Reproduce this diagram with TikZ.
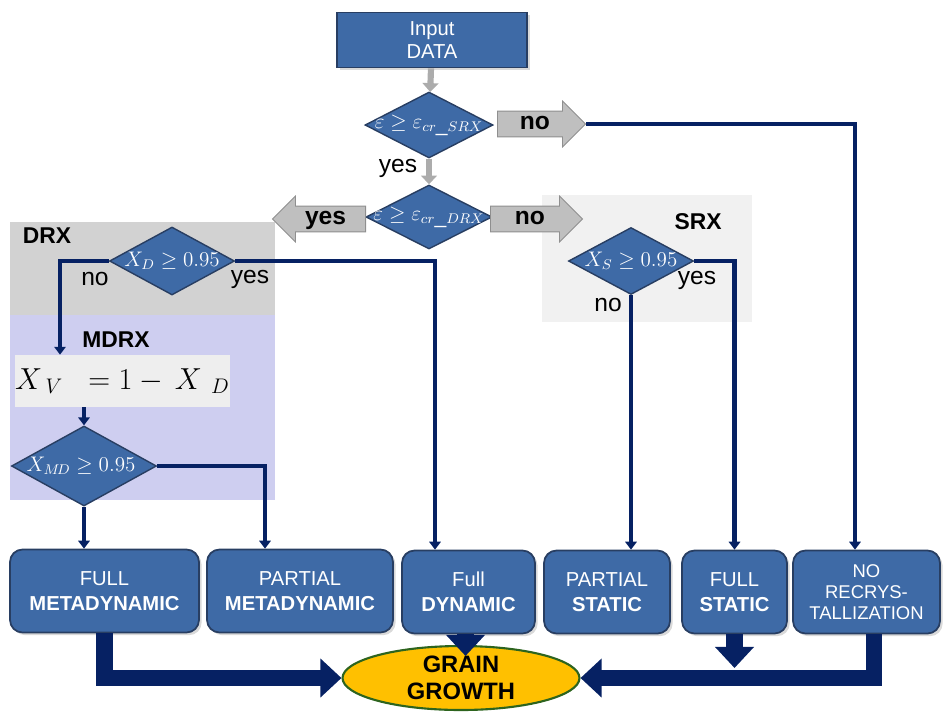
\documentclass[tikz,border=0pt]{standalone}
\usepackage{fontspec}
\setmainfont{Liberation Sans}
\usetikzlibrary{shapes.geometric,shapes.arrows,arrows.meta,shadows}

\definecolor{boxblue}{RGB}{62,106,166}
\definecolor{boxedge}{RGB}{40,62,98}
\definecolor{navy}{RGB}{6,33,99}
\definecolor{arrowgray}{RGB}{191,191,191}
\definecolor{drxgray}{RGB}{210,210,210}
\definecolor{mdrxblue}{RGB}{206,206,240}
\definecolor{srxgray}{RGB}{241,241,241}
\definecolor{xvgray}{RGB}{238,238,238}
\definecolor{grainyellow}{RGB}{255,192,0}
\definecolor{graingreen}{RGB}{45,100,30}

\begin{document}
\begin{tikzpicture}[x=0.02cm,y=-0.02cm,
  box/.style={rectangle,rounded corners=0.25cm,draw=boxedge,line width=1pt,fill=boxblue,
    text=white,align=center,minimum height=1.66cm,inner sep=1pt,font=\fontsize{11.5}{14}\selectfont,
    drop shadow={shadow xshift=1.5pt,shadow yshift=-1.5pt,opacity=.3}},
  decision/.style={diamond,draw=boxedge,line width=.8pt,fill=boxblue,text=white,inner sep=0pt,
    font=\fontsize{12}{14}\selectfont},
  bigarrow/.style={single arrow,draw=arrowgray!75!black,line width=.5pt,fill=arrowgray,
    single arrow head extend=0.2cm,text height=8pt,text depth=2pt,inner ysep=2.1pt,inner xsep=2pt,
    font=\bfseries\fontsize{14}{16}\selectfont,anchor=tail},
  tag/.style={font=\bfseries\fontsize{13}{15}\selectfont},
  note/.style={font=\fontsize{14}{16}\selectfont},
  feed/.style={draw=arrowgray!90!black,line width=3.5pt,-{Triangle[width=9pt,length=5pt]}},
  flow/.style={draw=navy,line width=2.8pt,-{Triangle[width=6.5pt,length=4.5pt]}},
  fat/.style={draw=navy,line width=9.6pt,line join=miter,-{Triangle[width=21.5pt,length=12pt]}}]

  \useasboundingbox (0,0) rectangle (943,711);

  \fill[drxgray] (10,222) rectangle (275,315);
  \fill[mdrxblue] (10,315) rectangle (275,500);
  \fill[srxgray] (542,195) rectangle (752,322);

  \node[tag] (drx) at (47,236) {DRX};
  \node[tag] (mdrx) at (116,340) {MDRX};
  \node[tag] (srx) at (698,222) {SRX};

  \node[rectangle,draw=boxedge,line width=1pt,fill=boxblue,text=white,align=center,
    minimum width=3.8cm,minimum height=1.1cm,font=\fontsize{11.5}{13.5}\selectfont,
    drop shadow={shadow xshift=1.5pt,shadow yshift=-1.5pt,opacity=.3}] (input) at (432,40) {Input\\DATA};

  \node[decision,minimum width=2.56cm,minimum height=1.32cm] (srxtest) at (429,125)
    {\makebox[0pt]{$\varepsilon \geq \varepsilon_{cr\_SRX}$}};
  \node[decision,minimum width=2.52cm,minimum height=1.28cm] (drxtest) at (429,217)
    {\makebox[0pt]{$\varepsilon \geq \varepsilon_{cr\_DRX}$}};
  \node[decision,minimum width=2.5cm,minimum height=1.36cm] (xd) at (172,261)
    {\makebox[0pt]{$X_D \geq 0.95$}};
  \node[decision,minimum width=2.5cm,minimum height=1.34cm] (xs) at (631,261)
    {\makebox[0pt]{$X_S \geq 0.95$}};
  \node[decision,minimum width=2.9cm,minimum height=1.6cm] (xmd) at (84,466)
    {\makebox[0pt]{\hspace*{-0.12cm}$X_{M\!D} \geq 0.95$}};

  \node[fill=xvgray,minimum width=4.22cm,minimum height=1.04cm,inner sep=0pt,
    font=\fontsize{18}{20}\selectfont] (xv) at (122.5,381) {$X_{\;V}\;\;=1-\,X_{\;\;D}$};

  \node[bigarrow,minimum height=1.76cm] (no1) at (497,124) {no};
  \node[bigarrow,minimum height=1.86cm,shape border rotate=180] (yes2) at (366,219) {yes};
  \node[bigarrow,minimum height=1.84cm] (no2) at (490,219) {no};

  \node[note] (yes1) at (398,168) {yes};
  \node[note] (noxd) at (95,279) {no};
  \node[note] (yesxd) at (250,279) {yes};
  \node[note] (yesxs) at (697,280) {yes};
  \node[note] (noxs) at (608,305) {no};

  \node[box,minimum width=3.78cm] (fm) at (104.5,591) {FULL\\\textbf{METADYNAMIC}};
  \node[box,minimum width=3.72cm] (pm) at (300,591) {PARTIAL\\\textbf{METADYNAMIC}};
  \node[box,minimum width=2.66cm] (fd) at (468.5,592) {Full\\\textbf{DYNAMIC}};
  \node[box,minimum width=2.52cm] (ps) at (607,592) {PARTIAL\\\textbf{STATIC}};
  \node[box,minimum width=2.1cm] (fs) at (734.5,592) {FULL\\\textbf{STATIC}};
  \node[box,minimum width=2.94cm,font=\fontsize{10.5}{12}\selectfont] (nr) at (866.5,592)
    {NO\\RECRYS-\\TALLIZATION};

  \draw[feed] (input) -- (srxtest);
  \draw[feed] (srxtest) -- (drxtest);

  \draw[flow] (no1.tip) -| ([xshift=-0.23cm]nr.north);
  \draw[flow] (xd.west) -| ([xshift=-1.25cm]xv.north);
  \draw[flow] (xd.east) -| ([xshift=-0.67cm]fd.north);
  \draw[flow] (xv.south -| xmd.north) -- (xmd.north);
  \draw[flow] (xmd.east) -| ([xshift=-0.7cm]pm.north);
  \draw[flow] (xmd.south) -- (xmd.south |- fm.north);
  \draw[flow] (xs.east) -| (fs.north);
  \draw[flow] (xs.south) -- (xs.south |- ps.north);

  \node[ellipse,draw=graingreen,line width=1.2pt,fill=grainyellow,minimum width=4.74cm,
    minimum height=1.28cm,inner sep=0pt,align=center,
    font=\bfseries\fontsize{13.5}{15.5}\selectfont] (gg) at (461,678) {GRAIN\\GROWTH};

  \draw[fat] (fm.south) |- (gg.west);
  \draw[fat] ([xshift=-0.06cm]fd.south) -- ([xshift=-0.06cm,yshift=-0.22cm]fd.south |- gg.north);
  \draw[fat] (fs.south) -- ([yshift=0.2cm]fs.south |- gg.center);
  \draw[fat] ([xshift=0.15cm]nr.south) |- (gg.east);
\end{tikzpicture}
\end{document}
